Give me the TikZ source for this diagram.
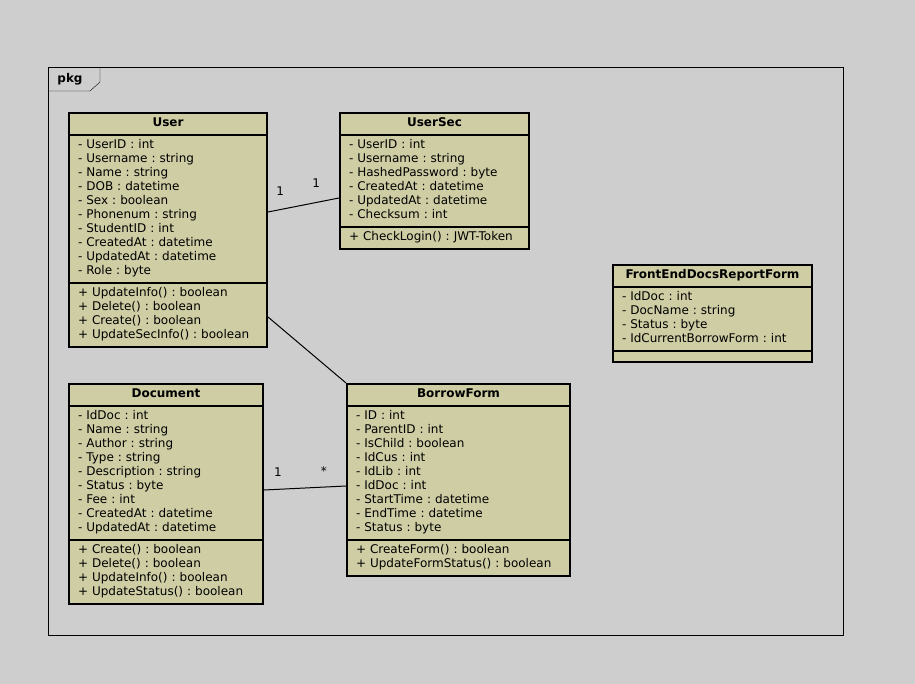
\documentclass[tikz,border=0pt]{standalone}
\usepackage{fontspec}
\setmainfont{DejaVu Sans}
\usetikzlibrary{shapes.multipart}
\definecolor{pagegray}{RGB}{206,206,206}
\definecolor{classfill}{RGB}{207,205,164}
\tikzset{
  umlbase/.style={rectangle split, rectangle split parts=3, draw, line width=2pt,
    fill=classfill, anchor=north west, inner xsep=9pt, inner ysep=3pt,
    font=\fontsize{12}{14}\selectfont\frenchspacing, align=left},
  umlclass/.style={umlbase,
    execute at begin node=\strut, execute at end node=\strut},
  mult/.style={inner sep=0pt, font=\fontsize{12}{14}\selectfont}
}
\begin{document}
\begin{tikzpicture}[x=1pt,y=-1pt]
  \fill[pagegray] (0,0) rectangle (915,684);
  \draw (48,67) rectangle (843,635);
  \draw (48,91) -- (90,91) -- (100,82) -- (100,67);
  \node[font=\bfseries\fontsize{12}{14}\selectfont] (pkg) at (70,79) {pkg};
  \node[umlclass, text width=180pt] (user) at (68,112)
    {\hfill\textbf{User}\hfill
     \nodepart{two}- UserID : int\\
     - Username : string\\
     - Name : string\\
     - DOB : datetime\\
     - Sex : boolean\\
     - Phonenum : string\\
     - StudentID : int\\
     - CreatedAt : datetime\\
     - UpdatedAt : datetime\\
     - Role : byte
     \nodepart{three}+ UpdateInfo() : boolean\\
     + Delete() : boolean\\
     + Create() : boolean\\
     + UpdateSecInfo() : boolean};
  \node[umlclass, text width=171pt] (usersec) at (339,112)
    {\hfill\textbf{UserSec}\hfill
     \nodepart{two}- UserID : int\\
     - Username : string\\
     - HashedPassword : byte\\
     - CreatedAt : datetime\\
     - UpdatedAt : datetime\\
     - Checksum : int
     \nodepart{three}+ CheckLogin() : JWT-Token};
  \node[umlbase, text width=181pt] (report) at (612,264)
    {\strut\hfill\textbf{FrontEndDocsReportForm}\hfill\strut
     \nodepart{two}\strut- IdDoc : int\\
     - DocName : string\\
     - Status : byte\\
     - IdCurrentBorrowForm : int\strut
     \nodepart{three}\rule{0pt}{3pt}};
  \node[umlclass, text width=176pt] (document) at (68,383)
    {\hfill\textbf{Document}\hfill
     \nodepart{two}- IdDoc : int\\
     - Name : string\\
     - Author : string\\
     - Type : string\\
     - Description : string\\
     - Status : byte\\
     - Fee : int\\
     - CreatedAt : datetime\\
     - UpdatedAt : datetime
     \nodepart{three}+ Create() : boolean\\
     + Delete() : boolean\\
     + UpdateInfo() : boolean\\
     + UpdateStatus() : boolean};
  \node[umlclass, text width=205pt] (borrowform) at (346,383)
    {\hfill\textbf{BorrowForm}\hfill
     \nodepart{two}- ID : int\\
     - ParentID : int\\
     - IsChild : boolean\\
     - IdCus : int\\
     - IdLib : int\\
     - IdDoc : int\\
     - StartTime : datetime\\
     - EndTime : datetime\\
     - Status : byte
     \nodepart{three}+ CreateForm() : boolean\\
     + UpdateFormStatus() : boolean};
  \begin{scope}[-, line width=1pt]
    \draw ([yshift=18pt]user.east) to
      node[mult, pos=0.17, above=14pt] (m1) {1}
      node[mult, pos=0.68, above=14pt] (m2) {1}
      ([yshift=-17pt]usersec.west);
    \draw ([yshift=-87pt]user.east) to (borrowform.north west);
    \draw ([yshift=4pt]document.east) to
      node[mult, pos=0.17, above=12pt] (m3) {1}
      node[mult, pos=0.73, above=11pt] (m4) {*}
      ([yshift=-6pt]borrowform.west);
  \end{scope}
\end{tikzpicture}
\end{document}
